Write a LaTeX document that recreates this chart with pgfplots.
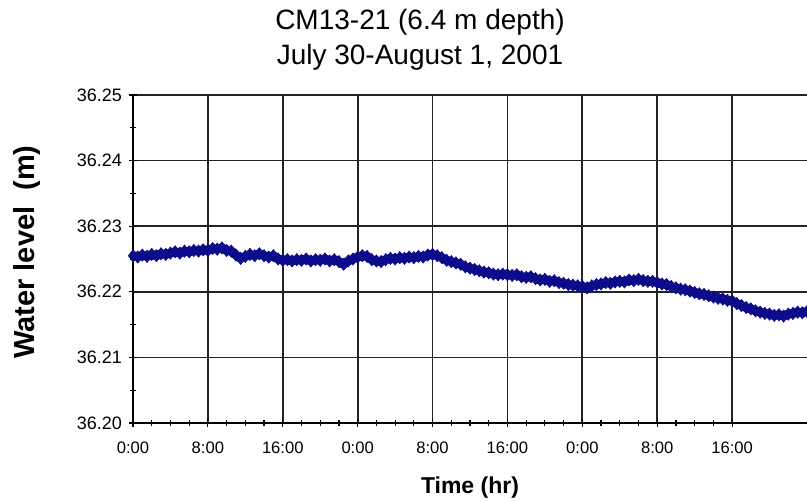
\documentclass[border=0pt]{standalone}
\usepackage{pgfplots}
\pgfplotsset{compat=1.18}
\usepackage{fontspec}
\setmainfont{Liberation Sans}
\definecolor{navyd}{RGB}{12,12,138}
\definecolor{gridc}{RGB}{35,35,35}
\begin{document}
\begin{tikzpicture}
\begin{axis}[
  name=main,
  scale only axis,
  width=337pt, height=164pt,
  xmin=0, xmax=72,
  ymin=36.20, ymax=36.25,
  xtick={0,8,16,24,32,40,48,56,64},
  xticklabels={0:00,8:00,16:00,0:00,8:00,16:00,0:00,8:00,16:00},
  minor x tick num=3,
  ytick={36.20,36.21,36.22,36.23,36.24,36.25},
  minor y tick num=1,
  yticklabel style={/pgf/number format/fixed,/pgf/number format/precision=2,/pgf/number format/fixed zerofill,/pgf/number format/assume math mode=true,font=\fontsize{9}{10}\selectfont},
  xticklabel style={font=\fontsize{8.3}{10}\selectfont, yshift=-4pt},
  scaled y ticks=false,
  axis x line*=bottom,
  axis y line*=left,
  axis line style={black, line width=0.9pt, -},
  tick align=center,
  major tick length=4pt,
  minor tick length=3pt,
  tick style={black, line width=0.6pt},
  xmajorgrids, ymajorgrids,
  major grid style={gridc, line width=0.85pt},
  clip=true,
]
\addplot[navyd, line width=4.5pt, line join=round, mark=diamond*, mark size=3.1pt, mark options={draw=navyd, fill=navyd, line width=0.3pt}] coordinates {
(0,36.2255)(0.5,36.2253)(1,36.2256)(1.5,36.2254)(2,36.2257)(2.5,36.2255)(3,36.2258)(3.5,36.2257)
(4,36.2259)(4.5,36.2261)(5,36.2259)(5.5,36.2262)(6,36.2261)(6.5,36.2263)(7,36.2262)(7.5,36.2264)
(8,36.2263)(8.5,36.2266)(9,36.2265)(9.5,36.2267)(10,36.2263)(10.5,36.2262)(11,36.2256)(11.5,36.2251)
(12,36.2254)(12.5,36.2257)(13,36.2255)(13.5,36.2258)(14,36.2255)(14.5,36.2253)(15,36.2255)(15.5,36.2250)
(16,36.2248)(16.5,36.2249)(17,36.2247)(17.5,36.2249)(18,36.2248)(18.5,36.2250)(19,36.2247)(19.5,36.2249)
(20,36.2248)(20.5,36.2250)(21,36.2247)(21.5,36.2249)(22,36.2246)(22.5,36.2242)(23,36.2247)(23.5,36.2250)
(24,36.2253)(24.5,36.2255)(25,36.2254)(25.5,36.2249)(26,36.2247)(26.5,36.2246)(27,36.2249)(27.5,36.2251)
(28,36.2250)(28.5,36.2252)(29,36.2251)(29.5,36.2253)(30,36.2252)(30.5,36.2254)(31,36.2253)(31.5,36.2256)
(32,36.2257)(32.5,36.2255)(33,36.2252)(33.5,36.2248)(34,36.2246)(34.5,36.2244)(35,36.2242)(35.5,36.2238)
(36,36.2236)(36.5,36.2234)(37,36.2232)(37.5,36.2230)(38,36.2229)(38.5,36.2227)(39,36.2226)(39.5,36.2227)
(40,36.2226)(40.5,36.2225)(41,36.2226)(41.5,36.2223)(42,36.2222)(42.5,36.2223)(43,36.2220)(43.5,36.2218)
(44,36.2219)(44.5,36.2216)(45,36.2217)(45.5,36.2214)(46,36.2213)(46.5,36.2211)(47,36.2210)(47.5,36.2209)
(48,36.2208)(48.5,36.2206)(49,36.2209)(49.5,36.2211)(50,36.2212)(50.5,36.2214)(51,36.2213)(51.5,36.2215)
(52,36.2216)(52.5,36.2215)(53,36.2218)(53.5,36.2217)(54,36.2219)(54.5,36.2217)(55,36.2216)(55.5,36.2216)
(56,36.2214)(56.5,36.2212)(57,36.2211)(57.5,36.2208)(58,36.2206)(58.5,36.2204)(59,36.2203)(59.5,36.2201)
(60,36.2199)(60.5,36.2197)(61,36.2196)(61.5,36.2194)(62,36.2192)(62.5,36.2190)(63,36.2189)(63.5,36.2187)
(64,36.2186)(64.5,36.2182)(65,36.2179)(65.5,36.2176)(66,36.2174)(66.5,36.2171)(67,36.2169)(67.5,36.2167)
(68,36.2166)(68.5,36.2164)(69,36.2165)(69.5,36.2163)(70,36.2166)(70.5,36.2167)(71,36.2169)(71.5,36.2168)
(72,36.2170)
};
\end{axis}
\node[font=\fontsize{14}{15}\selectfont] at ([xshift=143.5pt,yshift=36.5pt]main.north west) {CM13-21 (6.4 m depth)};
\node[font=\fontsize{14}{15}\selectfont] at ([xshift=143.5pt,yshift=19pt]main.north west) {July 30-August 1, 2001};
\node[font=\bfseries\fontsize{14.5}{16}\selectfont, rotate=90] at ([xshift=-53pt,yshift=3.5pt]main.west) {Water level\ \ (m)};
\node[font=\bfseries\fontsize{11.5}{13}\selectfont] at ([yshift=-32.5pt]main.south) {Time (hr)};
\pgfresetboundingbox
\path ([xshift=-66.5pt,yshift=-39.5pt]main.south west) rectangle ([yshift=47.5pt]main.north east);
\end{tikzpicture}
\end{document}
